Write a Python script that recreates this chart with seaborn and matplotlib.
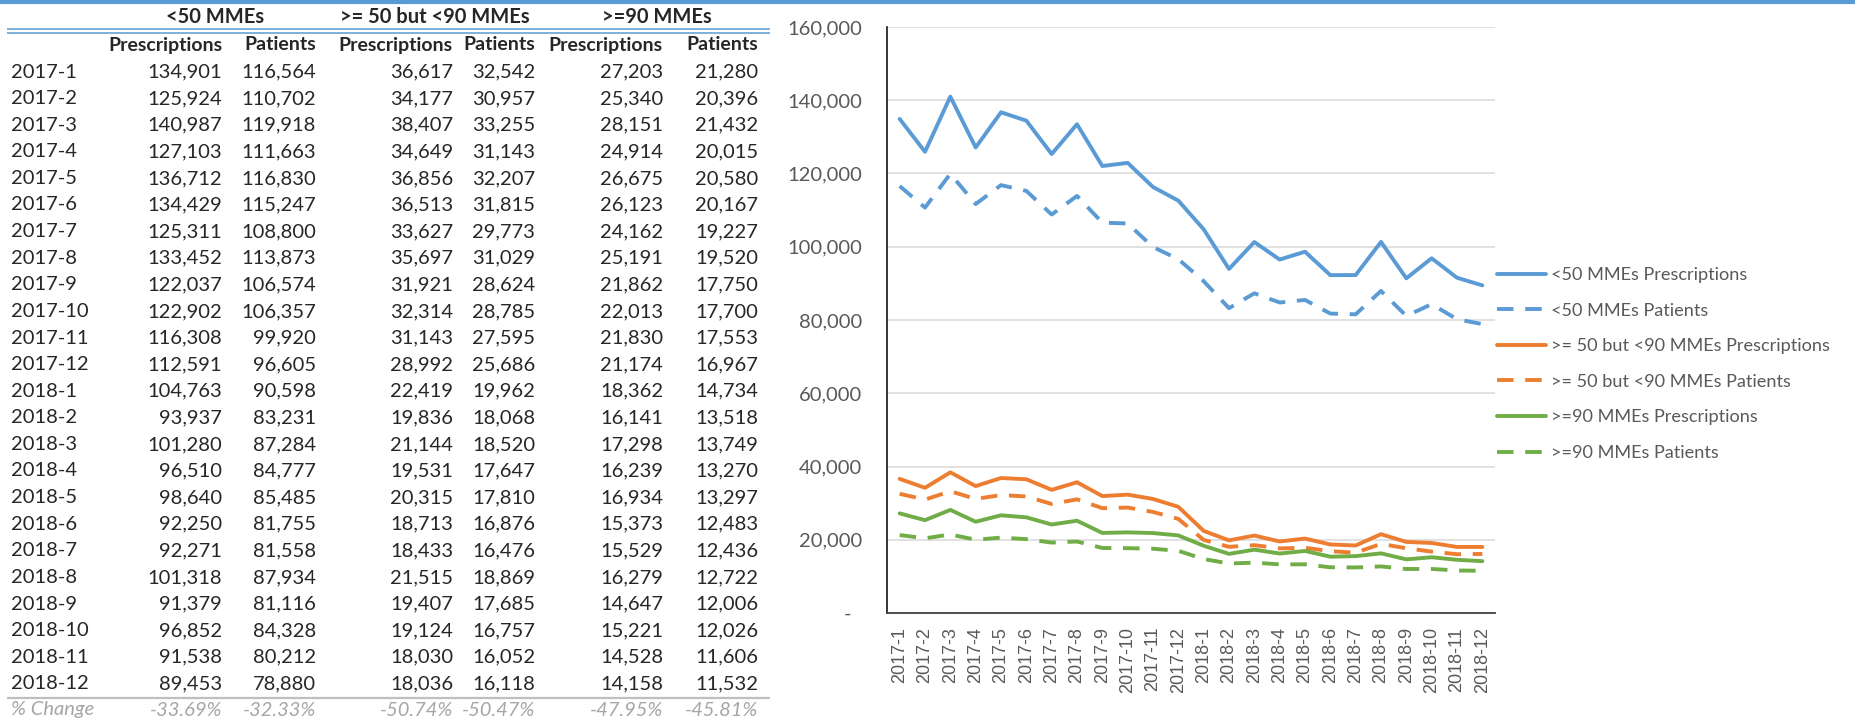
import matplotlib
matplotlib.use("Agg")
import matplotlib.pyplot as plt
from matplotlib.lines import Line2D
from matplotlib.ticker import FuncFormatter, MultipleLocator
import pandas as pd
import seaborn as sns

# ---------------------------------------------------------------------------
# Data (read off the reference table)
# ---------------------------------------------------------------------------
months = [
    "2017-1", "2017-2", "2017-3", "2017-4", "2017-5", "2017-6",
    "2017-7", "2017-8", "2017-9", "2017-10", "2017-11", "2017-12",
    "2018-1", "2018-2", "2018-3", "2018-4", "2018-5", "2018-6",
    "2018-7", "2018-8", "2018-9", "2018-10", "2018-11", "2018-12",
]
lt50_rx = [134901, 125924, 140987, 127103, 136712, 134429, 125311, 133452,
           122037, 122902, 116308, 112591, 104763, 93937, 101280, 96510,
           98640, 92250, 92271, 101318, 91379, 96852, 91538, 89453]
lt50_pt = [116564, 110702, 119918, 111663, 116830, 115247, 108800, 113873,
           106574, 106357, 99920, 96605, 90598, 83231, 87284, 84777,
           85485, 81755, 81558, 87934, 81116, 84328, 80212, 78880]
mid_rx = [36617, 34177, 38407, 34649, 36856, 36513, 33627, 35697,
          31921, 32314, 31143, 28992, 22419, 19836, 21144, 19531,
          20315, 18713, 18433, 21515, 19407, 19124, 18030, 18036]
mid_pt = [32542, 30957, 33255, 31143, 32207, 31815, 29773, 31029,
          28624, 28785, 27595, 25686, 19962, 18068, 18520, 17647,
          17810, 16876, 16476, 18869, 17685, 16757, 16052, 16118]
ge90_rx = [27203, 25340, 28151, 24914, 26675, 26123, 24162, 25191,
           21862, 22013, 21830, 21174, 18362, 16141, 17298, 16239,
           16934, 15373, 15529, 16279, 14647, 15221, 14528, 14158]
ge90_pt = [21280, 20396, 21432, 20015, 20580, 20167, 19227, 19520,
           17750, 17700, 17553, 16967, 14734, 13518, 13749, 13270,
           13297, 12483, 12436, 12722, 12006, 12026, 11606, 11532]
pct_change = ["-33.69%", "-32.33%", "-50.74%", "-50.47%", "-47.95%", "-45.81%"]

groups = ["<50 MMEs", ">= 50 but <90 MMEs", ">=90 MMEs"]
measures = ["Prescriptions", "Patients"]
table_cols = [lt50_rx, lt50_pt, mid_rx, mid_pt, ge90_rx, ge90_pt]
series_names = [f"{g} {m}" for g in groups for m in measures]

# ---------------------------------------------------------------------------
# Style
# ---------------------------------------------------------------------------
sns.set_style("white")
plt.rcParams["font.family"] = ["Lato", "DejaVu Sans"]

BLUE = "#5B9BD5"
ORANGE = "#ED7D31"
GREEN = "#70AD47"
GREY_TXT = "#595959"

palette = dict(zip(series_names, [BLUE, BLUE, ORANGE, ORANGE, GREEN, GREEN]))
dash_style = (4.25, 3)
dashes = dict(zip(series_names, ["", dash_style] * 3))

W, H = 1855, 723
fig = plt.figure(figsize=(W / 100, H / 100), dpi=100)


def fx(px):
    return px / W


def fy(py):
    return 1 - py / H


def hline(x0, x1, y, color, lw):
    fig.add_artist(Line2D([fx(x0), fx(x1)], [fy(y), fy(y)], color=color,
                          lw=lw, transform=fig.transFigure, solid_capstyle="butt"))


# top accent band
hline(0, W, 2, BLUE, 3.0)

# ---------------------------------------------------------------------------
# Table on the left
# ---------------------------------------------------------------------------
FS = 14.5
col_right = [222, 316, 453, 535, 663, 758]
group_center = [215, 435, 657]
row0, row_step = 72, 26.6

for g, cx in zip(groups, group_center):
    fig.text(fx(cx), fy(17), g, ha="center", va="center", fontsize=FS,
             fontweight="bold")
hline(7, 770, 29, BLUE, 1.1)
hline(7, 770, 32.5, BLUE, 1.1)

for i, xr in enumerate(col_right):
    fig.text(fx(xr), fy(45), measures[i % 2], ha="right", va="center",
             fontsize=FS - 0.5, fontweight="bold")

for r, m in enumerate(months):
    y = row0 + r * row_step
    fig.text(fx(11), fy(y), m, ha="left", va="center", fontsize=FS)
    for col, xr in zip(table_cols, col_right):
        fig.text(fx(xr), fy(y), f"{col[r]:,}", ha="right", va="center",
                 fontsize=FS)

hline(7, 770, 698, "#BFBFBF", 1.6)
fig.text(fx(11), fy(710), "% Change", ha="left", va="center", fontsize=FS,
         style="italic", color="#A6A6A6")
for p, xr in zip(pct_change, col_right):
    fig.text(fx(xr), fy(710), p, ha="right", va="center", fontsize=FS,
             style="italic", color="#A6A6A6")

# ---------------------------------------------------------------------------
# Line chart on the right
# ---------------------------------------------------------------------------
df = pd.DataFrame({
    "idx": list(range(len(months))) * len(series_names),
    "value": [v for col in table_cols for v in col],
    "series": [s for s in series_names for _ in months],
})

ax = fig.add_axes([fx(887), fy(613), fx(1495 - 887), (613 - 27) / H])
sns.lineplot(data=df, x="idx", y="value", hue="series", style="series",
             palette=palette, dashes=dashes, linewidth=2.8, legend=False,
             ax=ax)

ax.set_xlim(-0.5, len(months) - 0.5)
ax.set_ylim(0, 160000)
ax.yaxis.set_major_locator(MultipleLocator(20000))
ax.yaxis.set_major_formatter(
    FuncFormatter(lambda v, _: "-  " if v == 0 else f"{v:,.0f}"))
ax.set_xticks(range(len(months)))
ax.set_xticklabels(months, rotation=90, fontfamily=["Liberation Sans"],
                   fontsize=13, color=GREY_TXT)
ax.tick_params(axis="x", length=0, pad=10)
ax.tick_params(axis="y", length=0, pad=18, labelsize=FS, labelcolor=GREY_TXT)
ax.set_xlabel("")
ax.set_ylabel("")
ax.grid(axis="y", color="#D9D9D9", lw=1.1)
ax.grid(axis="x", visible=False)
for side in ["top", "right"]:
    ax.spines[side].set_visible(False)
ax.spines["left"].set_color("black")
ax.spines["left"].set_linewidth(1.1)
ax.spines["bottom"].set_color("#404040")
ax.spines["bottom"].set_linewidth(1.3)

handles = []
for s in series_names:
    h = Line2D([], [], color=palette[s], lw=2.8)
    if dashes[s]:
        h.set_dashes(dashes[s])
    handles.append(h)
fig.legend(handles, series_names, loc="center left",
           bbox_to_anchor=(fx(1497), fy(364)), frameon=False,
           fontsize=13.1, labelcolor=GREY_TXT, handlelength=2.7,
           handletextpad=0.25, labelspacing=1.08, borderpad=0,
           borderaxespad=0)

fig.savefig("out.png", dpi=100)
